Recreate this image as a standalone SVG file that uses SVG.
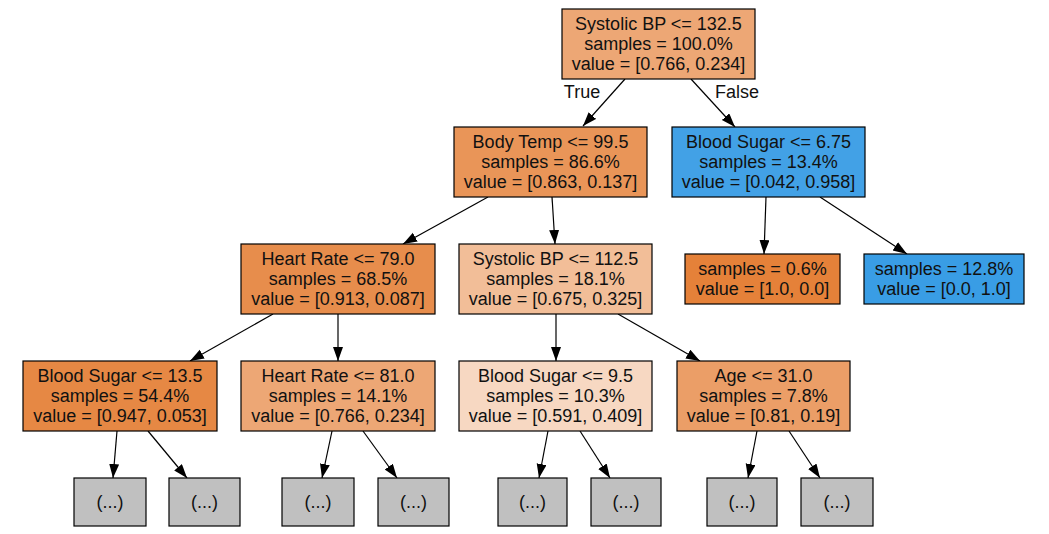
<svg xmlns="http://www.w3.org/2000/svg" width="1049" height="534" viewBox="0 0 1049 534">
<style>
.n rect{stroke:#000;stroke-width:1.2}
text{font-family:"Liberation Sans",Arial,sans-serif;font-size:18px;fill:#111;text-anchor:middle}
.e{stroke:#000;stroke-width:1.2;fill:none;marker-end:url(#ah)}
.g{fill:#c0c0c0}
</style>
<defs>
<marker id="ah" markerUnits="userSpaceOnUse" markerWidth="15" markerHeight="11" refX="14" refY="5" orient="auto">
<path d="M0,0 L14,5 L0,10 Z" fill="#000"/>
</marker>
</defs>
<rect x="0" y="0" width="1049" height="534" fill="#fff"/>
<g id="edges">
<line class="e" x1="625" y1="79" x2="583" y2="126"/>
<line class="e" x1="691" y1="79" x2="735" y2="127"/>
<line class="e" x1="488" y1="197" x2="403" y2="244"/>
<line class="e" x1="552" y1="197" x2="555" y2="244"/>
<line class="e" x1="766" y1="197" x2="764" y2="254"/>
<line class="e" x1="820" y1="197" x2="907" y2="254"/>
<line class="e" x1="273" y1="314" x2="190" y2="361"/>
<line class="e" x1="338" y1="314" x2="338" y2="361"/>
<line class="e" x1="556" y1="314" x2="556" y2="361"/>
<line class="e" x1="618" y1="314" x2="700" y2="361"/>
<line class="e" x1="117" y1="431" x2="113" y2="478"/>
<line class="e" x1="148" y1="431" x2="187" y2="478"/>
<line class="e" x1="332" y1="431" x2="322" y2="478"/>
<line class="e" x1="363" y1="431" x2="397" y2="478"/>
<line class="e" x1="548" y1="431" x2="539" y2="478"/>
<line class="e" x1="580" y1="431" x2="610" y2="478"/>
<line class="e" x1="757" y1="431" x2="748" y2="478"/>
<line class="e" x1="789" y1="431" x2="820" y2="478"/>
<text x="582" y="98">True</text>
<text x="737" y="98">False</text>
</g>
<g id="n0" class="n">
<rect x="562" y="9" width="193" height="70" fill="#eda775"/>
<text x="658.5" y="30">Systolic BP &lt;= 132.5</text>
<text x="658.5" y="50">samples = 100.0%</text>
<text x="658.5" y="70">value = [0.766, 0.234]</text>
</g>
<g id="n1" class="n">
<rect x="454" y="127" width="193" height="70" fill="#e99558"/>
<text x="550.5" y="148">Body Temp &lt;= 99.5</text>
<text x="550.5" y="168">samples = 86.6%</text>
<text x="550.5" y="188">value = [0.863, 0.137]</text>
</g>
<g id="n2" class="n">
<rect x="672" y="127" width="193" height="70" fill="#42a1e6"/>
<text x="768.5" y="148">Blood Sugar &lt;= 6.75</text>
<text x="768.5" y="168">samples = 13.4%</text>
<text x="768.5" y="188">value = [0.042, 0.958]</text>
</g>
<g id="n3" class="n">
<rect x="241" y="244" width="194" height="70" fill="#e78d4c"/>
<text x="338" y="265">Heart Rate &lt;= 79.0</text>
<text x="338" y="285">samples = 68.5%</text>
<text x="338" y="305">value = [0.913, 0.087]</text>
</g>
<g id="n4" class="n">
<rect x="459" y="244" width="193" height="70" fill="#f2be98"/>
<text x="555.5" y="265">Systolic BP &lt;= 112.5</text>
<text x="555.5" y="285">samples = 18.1%</text>
<text x="555.5" y="305">value = [0.675, 0.325]</text>
</g>
<g id="n5" class="n">
<rect x="685" y="254" width="155" height="50" fill="#e58139"/>
<text x="762.5" y="275">samples = 0.6%</text>
<text x="762.5" y="295">value = [1.0, 0.0]</text>
</g>
<g id="n6" class="n">
<rect x="864" y="254" width="160" height="50" fill="#399de5"/>
<text x="944" y="275">samples = 12.8%</text>
<text x="944" y="295">value = [0.0, 1.0]</text>
</g>
<g id="n7" class="n">
<rect x="23" y="361" width="194" height="70" fill="#e68844"/>
<text x="120" y="382">Blood Sugar &lt;= 13.5</text>
<text x="120" y="402">samples = 54.4%</text>
<text x="120" y="422">value = [0.947, 0.053]</text>
</g>
<g id="n8" class="n">
<rect x="241" y="361" width="194" height="70" fill="#eda775"/>
<text x="338" y="382">Heart Rate &lt;= 81.0</text>
<text x="338" y="402">samples = 14.1%</text>
<text x="338" y="422">value = [0.766, 0.234]</text>
</g>
<g id="n9" class="n">
<rect x="459" y="361" width="193" height="70" fill="#f7d8c2"/>
<text x="555.5" y="382">Blood Sugar &lt;= 9.5</text>
<text x="555.5" y="402">samples = 10.3%</text>
<text x="555.5" y="422">value = [0.591, 0.409]</text>
</g>
<g id="n10" class="n">
<rect x="677" y="361" width="173" height="70" fill="#eb9e67"/>
<text x="763.5" y="382">Age &lt;= 31.0</text>
<text x="763.5" y="402">samples = 7.8%</text>
<text x="763.5" y="422">value = [0.81, 0.19]</text>
</g>
<g id="g1" class="n"><rect class="g" x="74" y="478" width="72" height="48"/><text x="110" y="508">(...)</text></g>
<g id="g2" class="n"><rect class="g" x="169" y="478" width="71" height="48"/><text x="204.5" y="508">(...)</text></g>
<g id="g3" class="n"><rect class="g" x="282" y="478" width="72" height="48"/><text x="318" y="508">(...)</text></g>
<g id="g4" class="n"><rect class="g" x="378" y="478" width="71" height="48"/><text x="413.5" y="508">(...)</text></g>
<g id="g5" class="n"><rect class="g" x="498" y="478" width="69" height="48"/><text x="532.5" y="508">(...)</text></g>
<g id="g6" class="n"><rect class="g" x="591" y="478" width="70" height="48"/><text x="626" y="508">(...)</text></g>
<g id="g7" class="n"><rect class="g" x="707" y="478" width="70" height="48"/><text x="742" y="508">(...)</text></g>
<g id="g8" class="n"><rect class="g" x="801" y="478" width="72" height="48"/><text x="837" y="508">(...)</text></g>
</svg>
